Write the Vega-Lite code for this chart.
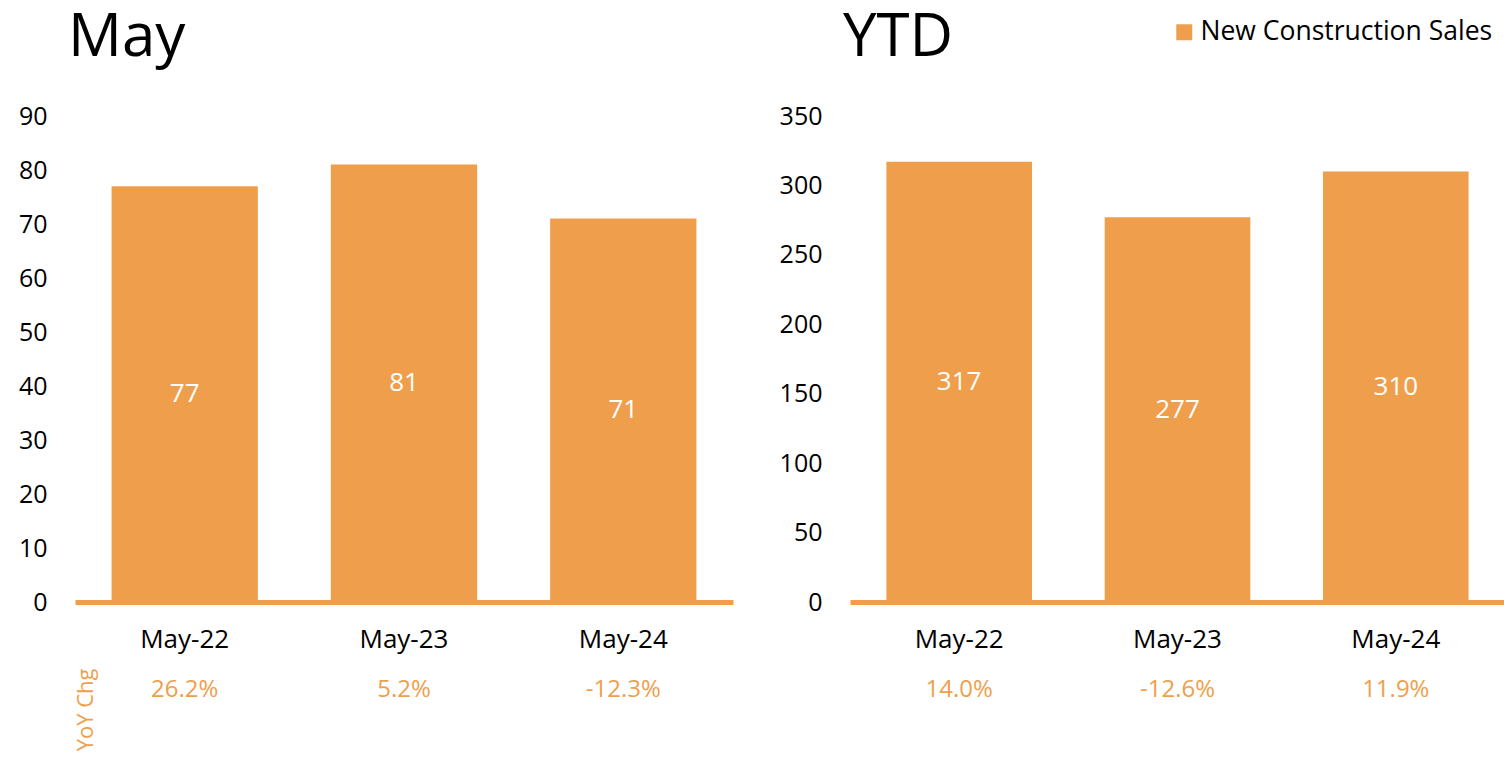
{
  "$schema": "https://vega.github.io/schema/vega-lite/v6.json",
  "background": "white",
  "padding": {"left": 18, "top": 8, "right": 1, "bottom": 0},
  "config": {
    "font": "Open Sans",
    "view": {"stroke": null},
    "axis": {"grid": false, "ticks": false, "labelFont": "Open Sans", "labelFontSize": 25, "labelColor": "#000000", "titleFont": "Open Sans"},
    "title": {"font": "Open Sans", "fontSize": 60, "fontWeight": "normal", "color": "#000000", "anchor": "start", "frame": "group"}
  },
  "datasets": {
    "may": [
      {"period": "May-22", "value": 77, "yoy": "26.2%", "series": "New Construction Sales"},
      {"period": "May-23", "value": 81, "yoy": "5.2%", "series": "New Construction Sales"},
      {"period": "May-24", "value": 71, "yoy": "-12.3%", "series": "New Construction Sales"}
    ],
    "ytd": [
      {"period": "May-22", "value": 317, "yoy": "14.0%", "series": "New Construction Sales"},
      {"period": "May-23", "value": 277, "yoy": "-12.6%", "series": "New Construction Sales"},
      {"period": "May-24", "value": 310, "yoy": "11.9%", "series": "New Construction Sales"}
    ]
  },
  "spacing": 46,
  "hconcat": [
    {
      "title": {"text": "May", "dx": -7, "offset": 35},
      "width": 658,
      "height": 486,
      "data": {"name": "may"},
      "layer": [
        {
          "mark": {"type": "bar", "color": "#EF9F4C"},
          "encoding": {
            "x": {"field": "period", "type": "nominal", "sort": null, "scale": {"paddingInner": 0.333, "paddingOuter": 0.1667},
              "axis": {"orient": "bottom", "title": null, "labelAngle": 0, "labelFontSize": 26, "domainColor": "#EF9F4C", "domainWidth": 5, "labelPadding": 24}},
            "y": {"field": "value", "type": "quantitative", "scale": {"domain": [0, 90]},
              "axis": {"title": null, "domain": false, "values": [0, 10, 20, 30, 40, 50, 60, 70, 80, 90], "labelPadding": 28}}
          }
        },
        {
          "mark": {"type": "text", "color": "white", "fontSize": 26, "font": "Open Sans", "baseline": "middle"},
          "encoding": {
            "x": {"field": "period", "type": "nominal", "sort": null, "scale": {"paddingInner": 0.333, "paddingOuter": 0.1667}, "axis": null},
            "y": {"field": "value", "type": "quantitative", "scale": {"domain": [0, 180]}, "axis": null},
            "text": {"field": "value", "type": "quantitative"}
          }
        },
        {
          "mark": {"type": "bar", "opacity": 0},
          "encoding": {
            "x": {"field": "yoy", "type": "nominal", "sort": null, "scale": {"paddingInner": 0.333, "paddingOuter": 0.1667},
              "axis": {"orient": "bottom", "title": "YoY Chg", "labelAngle": 0, "domain": false, "labelColor": "#EF9F4C", "labelFontSize": 24, "labelPadding": 20, "offset": 55,
                "titleColor": "#EF9F4C", "titleFontSize": 22, "titleFontWeight": "normal", "titleAngle": 270, "titleAlign": "right", "titleBaseline": "middle", "titleX": 10, "titleY": 11}},
            "y": {"field": "value", "type": "quantitative", "axis": null}
          }
        }
      ],
      "resolve": {"scale": {"x": "independent", "y": "independent"}, "axis": {"x": "independent", "y": "independent"}}
    },
    {
      "title": {"text": "YTD", "dx": -7, "offset": 35},
      "width": 655,
      "height": 486,
      "data": {"name": "ytd"},
      "layer": [
        {
          "mark": {"type": "bar"},
          "encoding": {
            "x": {"field": "period", "type": "nominal", "sort": null, "scale": {"paddingInner": 0.333, "paddingOuter": 0.1667},
              "axis": {"orient": "bottom", "title": null, "labelAngle": 0, "labelFontSize": 26, "domainColor": "#EF9F4C", "domainWidth": 5, "labelPadding": 24}},
            "y": {"field": "value", "type": "quantitative", "scale": {"domain": [0, 350]},
              "axis": {"title": null, "domain": false, "values": [0, 50, 100, 150, 200, 250, 300, 350], "labelPadding": 28}},
            "color": {"field": "series", "type": "nominal", "scale": {"range": ["#EF9F4C"]},
              "legend": {"title": null, "orient": "none", "legendX": 1096, "legendY": -97, "symbolType": "square", "symbolSize": 256, "symbolStrokeWidth": 0, "labelFontSize": 26.5, "labelFont": "Open Sans", "labelColor": "#000000", "labelOffset": 3, "labelLimit": 500}}
          }
        },
        {
          "mark": {"type": "text", "color": "white", "fontSize": 26, "font": "Open Sans", "baseline": "middle"},
          "encoding": {
            "x": {"field": "period", "type": "nominal", "sort": null, "scale": {"paddingInner": 0.333, "paddingOuter": 0.1667}, "axis": null},
            "y": {"field": "value", "type": "quantitative", "scale": {"domain": [0, 700]}, "axis": null},
            "text": {"field": "value", "type": "quantitative"}
          }
        },
        {
          "mark": {"type": "bar", "opacity": 0},
          "encoding": {
            "x": {"field": "yoy", "type": "nominal", "sort": null, "scale": {"paddingInner": 0.333, "paddingOuter": 0.1667},
              "axis": {"orient": "bottom", "title": null, "labelAngle": 0, "domain": false, "labelColor": "#EF9F4C", "labelFontSize": 24, "labelPadding": 20, "offset": 55}},
            "y": {"field": "value", "type": "quantitative", "axis": null}
          }
        }
      ],
      "resolve": {"scale": {"x": "independent", "y": "independent"}, "axis": {"x": "independent", "y": "independent"}}
    }
  ]
}
